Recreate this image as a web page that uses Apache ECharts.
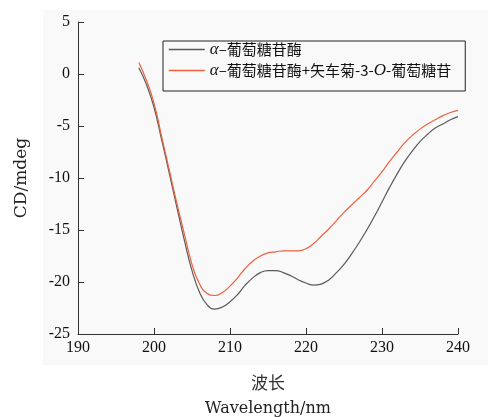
<!DOCTYPE html>
<html><head><meta charset="utf-8">
<script src="https://cdn.jsdelivr.net/npm/echarts@6/dist/echarts.min.js"></script>
<style>html,body{margin:0;padding:0;background:#fff}#c{width:488px;height:417px}</style>
</head><body><div id="c"></div>
<script>
var wavelengths = [198,199,200,201,202,203,204,205,206,207,208,209,210,211,212,213,214,215,216,217,218,219,220,221,222,223,224,225,226,227,228,229,230,231,232,233,234,235,236,237,238,239,240];
var enzymeCD = [0.6,-1.0,-3.2,-6.3,-9.5,-12.8,-16.0,-18.9,-21.0,-22.2,-22.6,-22.4,-21.9,-21.2,-20.3,-19.6,-19.1,-18.9,-18.9,-19.1,-19.4,-19.8,-20.1,-20.3,-20.2,-19.8,-19.1,-18.3,-17.3,-16.2,-15.0,-13.7,-12.3,-10.9,-9.6,-8.4,-7.4,-6.5,-5.8,-5.2,-4.8,-4.4,-4.1];
var complexCD = [1.1,-0.6,-2.8,-6.0,-9.2,-12.4,-15.4,-18.3,-20.2,-21.1,-21.3,-21.0,-20.4,-19.6,-18.7,-18.0,-17.5,-17.2,-17.1,-17.0,-17.0,-17.0,-16.8,-16.3,-15.6,-14.9,-14.1,-13.3,-12.6,-11.9,-11.2,-10.3,-9.4,-8.4,-7.5,-6.6,-5.9,-5.3,-4.8,-4.4,-4.0,-3.7,-3.5];
var seriesNames = ['α–葡萄糖苷酶', 'α–葡萄糖苷酶+矢车菊-3-O-葡萄糖苷'];
var xTicks = [190,200,210,220,230,240];
var yTicks = [-25,-20,-15,-10,-5,0,5];

function pairs(xs, ys){ return xs.map(function(x,i){ return [x, ys[i]]; }); }
var serif = '"Liberation Serif","DejaVu Serif",serif';
var wideSerif = '"DejaVu Serif",serif';
var cjk = '"Noto Sans CJK SC",sans-serif';

var chart = echarts.init(document.getElementById('c'));
chart.setOption({
  backgroundColor: '#ffffff',
  animation: false,
  graphic: [{
    type: 'rect', z: -10, silent: true,
    shape: {x: 43, y: 10, width: 445, height: 355},
    style: {fill: '#f9f9f9'}
  }],
  grid: {left: 78, right: 30, top: 22, bottom: 83, containLabel: false, outerBoundsMode: 'none'},
  legend: {
    orient: 'vertical', left: 163, top: 41,
    borderColor: '#222', borderWidth: 1,
    padding: [0, 14, 12, 5], itemGap: 4,
    itemWidth: 36, itemHeight: 18,
    itemStyle: {opacity: 0},
    lineStyle: {width: 1.5},
    data: seriesNames,
    formatter: function(n){
      if (n === seriesNames[0]) return '{i|α}{t|–葡萄糖苷酶}';
      return '{i|α}{t|–葡萄糖苷酶+矢车菊-3-}{i|O}{t|-葡萄糖苷}';
    },
    textStyle: {
      color: '#111',
      rich: {
        i: {fontFamily: serif, fontStyle: 'italic', fontSize: 17, color: '#111'},
        t: {fontFamily: cjk, fontSize: 15, color: '#111'}
      }
    }
  },
  xAxis: {
    type: 'value', min: 190, max: 240, interval: 10,
    name: '{c|波长}\n{e|Wavelength/nm}', nameLocation: 'middle', nameGap: 36,
    nameTextStyle: {color: '#222', rich: {
      c: {fontFamily: cjk, fontSize: 17, color: '#333', lineHeight: 26, align: 'center'},
      e: {fontFamily: wideSerif, fontSize: 16, color: '#222', lineHeight: 26, align: 'center'}
    }},
    axisLine: {show: true, onZero: false, lineStyle: {color: '#333', width: 1}},
    axisTick: {show: true, inside: true, length: 6, lineStyle: {color: '#333'}},
    axisLabel: {fontFamily: serif, fontSize: 16, color: '#111', margin: 6,
      formatter: function(v){ return xTicks.indexOf(v) >= 0 ? String(v) : ''; }},
    splitLine: {show: false}
  },
  yAxis: {
    type: 'value', min: -25, max: 5, interval: 5,
    name: 'CD/mdeg', nameLocation: 'middle', nameGap: 48, nameRotate: 90,
    nameTextStyle: {fontFamily: wideSerif, fontSize: 17, color: '#222'},
    axisLine: {show: true, onZero: false, lineStyle: {color: '#333', width: 1}},
    axisTick: {show: true, inside: true, length: 6, lineStyle: {color: '#333'}},
    axisLabel: {fontFamily: serif, fontSize: 16, color: '#111', margin: 8,
      formatter: function(v){ return yTicks.indexOf(v) >= 0 ? String(v) : ''; }},
    splitLine: {show: false}
  },
  series: [
    {name: seriesNames[0], type: 'line', data: pairs(wavelengths, enzymeCD),
     symbol: 'none', smooth: 0.5, lineStyle: {color: '#5a5a5a', width: 1.2}, itemStyle: {color: '#5a5a5a'}},
    {name: seriesNames[1], type: 'line', data: pairs(wavelengths, complexCD),
     symbol: 'none', smooth: 0.5, lineStyle: {color: '#f0603f', width: 1.2}, itemStyle: {color: '#f0603f'}}
  ]
});
</script></body></html>
